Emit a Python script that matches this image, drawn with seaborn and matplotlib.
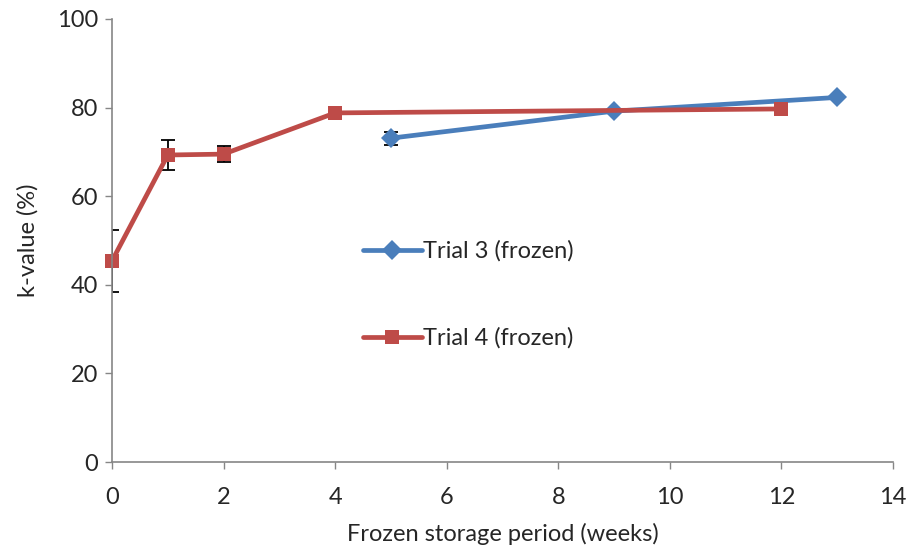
import matplotlib
matplotlib.use("Agg")
import matplotlib.pyplot as plt
import seaborn as sns
import pandas as pd

# Trial 3 (frozen)
weeks_t3 = [5, 9, 13]
kval_t3 = [73.1, 79.2, 82.3]
err_t3 = [1.5, 0.0, 0.0]

# Trial 4 (frozen)
weeks_t4 = [0, 1, 2, 4, 12]
kval_t4 = [45.4, 69.3, 69.5, 78.8, 79.7]
err_t4 = [7.0, 3.3, 1.8, 0.0, 0.0]

labels = ["Trial 3 (frozen)", "Trial 4 (frozen)"]
colors = ["#4A7EBB", "#BE4B48"]

df = pd.concat([
    pd.DataFrame({"week": weeks_t3, "k": kval_t3, "trial": labels[0]}),
    pd.DataFrame({"week": weeks_t4, "k": kval_t4, "trial": labels[1]}),
])

sns.set_style("white")
plt.rcParams["font.family"] = ["Lato", "DejaVu Sans"]
FS = 17

fig = plt.figure(figsize=(9.09, 5.52), dpi=100)
ax = fig.add_axes([0.1232, 0.163, 0.8592, 0.8026])

sns.lineplot(data=df, x="week", y="k", hue="trial", style="trial",
             palette=colors, markers={labels[0]: "D", labels[1]: "s"},
             dashes=False, linewidth=3.4, markersize=10, markeredgewidth=0,
             ax=ax, legend=True)
for ln in ax.lines:
    ln.set_clip_on(False)

# error bars drawn behind the markers
for w, k, e in [(weeks_t3, kval_t3, err_t3), (weeks_t4, kval_t4, err_t4)]:
    pts = [(a, b, c) for a, b, c in zip(w, k, e) if c > 0]
    ax.errorbar([p[0] for p in pts], [p[1] for p in pts], yerr=[p[2] for p in pts],
                fmt="none", ecolor="black", elinewidth=1.3, capsize=5, capthick=1.3,
                zorder=1)

ax.set_xlim(0, 14)
ax.set_ylim(0, 100)
ax.set_xticks(range(0, 15, 2))
ax.set_yticks(range(0, 101, 20))
ax.set_xlabel("Frozen storage period (weeks)", fontsize=FS, labelpad=11)
ax.set_ylabel("k-value (%)", fontsize=FS, labelpad=13)
ax.tick_params(axis="both", labelsize=FS, direction="out", length=5, pad=5,
               color="#868686", width=1, bottom=True, left=True)
ax.tick_params(axis="x", pad=13)
for side in ["top", "right"]:
    ax.spines[side].set_visible(False)
for side in ["left", "bottom"]:
    ax.spines[side].set_color("#868686")
    ax.spines[side].set_linewidth(1.2)

leg = ax.legend(loc="upper left", bbox_to_anchor=(0.321, 0.50), frameon=False,
                fontsize=FS, handlelength=2.5, labelspacing=2.77, handletextpad=0.05,
                borderaxespad=0, borderpad=0)

fig.savefig("out.png", dpi=100)
